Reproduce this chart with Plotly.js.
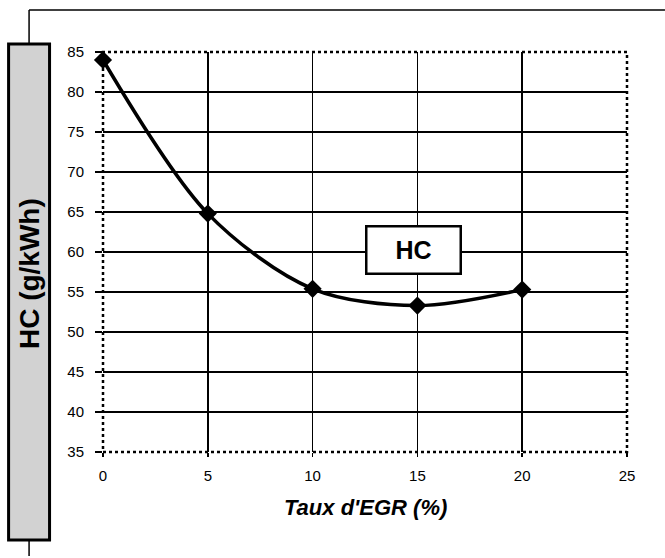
<!DOCTYPE html>
<html>
<head>
<meta charset="utf-8">
<script src="https://cdn.plot.ly/plotly-2.35.2.min.js"></script>
<style>html,body{margin:0;padding:0;background:#fff;}#chart{width:665px;height:558px;}</style>
</head>
<body>
<div id="chart"></div>
<script>
const egr = [0, 5, 10, 15, 20];
const hc = [84.0, 64.8, 55.4, 53.3, 55.3];
const xTicks = [0, 5, 10, 15, 20, 25];
const yTicks = [35, 40, 45, 50, 55, 60, 65, 70, 75, 80, 85];
const seriesName = 'HC';
const xTitle = "Taux d'EGR (%)";
const yTitle = 'HC (g/kWh)';

const PL = 102.5, PW = 524.5, PT = 52, PH = 400;
const px = v => (v - PL) / PW;
const py = v => (PT + PH - v) / PH;

const trace = {
  x: egr, y: hc, type: 'scatter', mode: 'lines+markers', name: seriesName,
  line: {color: '#000', width: 3.5, shape: 'spline', smoothing: 0.9},
  marker: {symbol: 'diamond', size: 14, color: '#000'},
  cliponaxis: false, showlegend: false
};

const layout = {
  width: 665, height: 558,
  margin: {l: PL, r: 665 - PL - PW, t: PT, b: 558 - PT - PH},
  paper_bgcolor: '#fff', plot_bgcolor: '#fff',
  font: {family: 'Liberation Sans, Arial, sans-serif', color: '#000', size: 15},
  xaxis: {
    range: [0, 25], tickvals: xTicks, ticktext: xTicks.map(String),
    showgrid: true, gridcolor: '#000', gridwidth: 1.7, zeroline: false,
    ticks: 'outside', ticklen: 4, tickcolor: '#000', tickwidth: 1.5,
    ticklabelstandoff: 6,
    showline: false, fixedrange: true
  },
  yaxis: {
    range: [35, 85], tickvals: yTicks, ticktext: yTicks.map(String),
    showgrid: true, gridcolor: '#000', gridwidth: 1.7, zeroline: false,
    ticks: 'outside', ticklen: 7, tickcolor: '#000', tickwidth: 1.5,
    ticklabelstandoff: 8,
    showline: false, fixedrange: true
  },
  shapes: [
    {type: 'rect', xref: 'paper', yref: 'paper', x0: 0, x1: 1, y0: 0, y1: 1,
     line: {color: '#000', width: 2.5, dash: 'dot'}},
    {type: 'rect', xref: 'paper', yref: 'paper',
     x0: px(8), x1: px(49), y0: py(540), y1: py(44),
     fillcolor: '#d2d2d2', line: {color: '#000', width: 3}},
    {type: 'line', xref: 'paper', yref: 'paper',
     x0: px(28.5), x1: px(28.5), y0: py(44), y1: py(10),
     line: {color: '#000', width: 1.5}},
    {type: 'line', xref: 'paper', yref: 'paper',
     x0: px(28.5), x1: px(665), y0: py(10), y1: py(10),
     line: {color: '#000', width: 1.5}},
    {type: 'line', xref: 'paper', yref: 'paper',
     x0: px(28.5), x1: px(28.5), y0: py(540), y1: py(556),
     line: {color: '#000', width: 1.5}}
  ],
  annotations: [
    {xref: 'paper', yref: 'paper', x: px(28.5), y: py(274),
     text: '<b>' + yTitle + '</b>', textangle: -90, showarrow: false,
     font: {size: 28, color: '#000'}, xanchor: 'center', yanchor: 'middle'},
    {xref: 'paper', yref: 'paper', x: 0.5, y: py(507),
     text: '<b><i>' + xTitle + '</i></b>', showarrow: false,
     font: {size: 22, color: '#000'}, xanchor: 'center', yanchor: 'middle'},
    {x: 14.8, y: 60.3, xref: 'x', yref: 'y', text: '<b>' + seriesName + '</b>', showarrow: false,
     font: {size: 25, color: '#000'}, bgcolor: '#fff', bordercolor: '#000', borderwidth: 2.5,
     borderpad: 0, width: 92, height: 45, xanchor: 'center', yanchor: 'middle'}
  ]
};

Plotly.newPlot('chart', [trace], layout, {displayModeBar: false, staticPlot: true});
</script>
</body>
</html>
